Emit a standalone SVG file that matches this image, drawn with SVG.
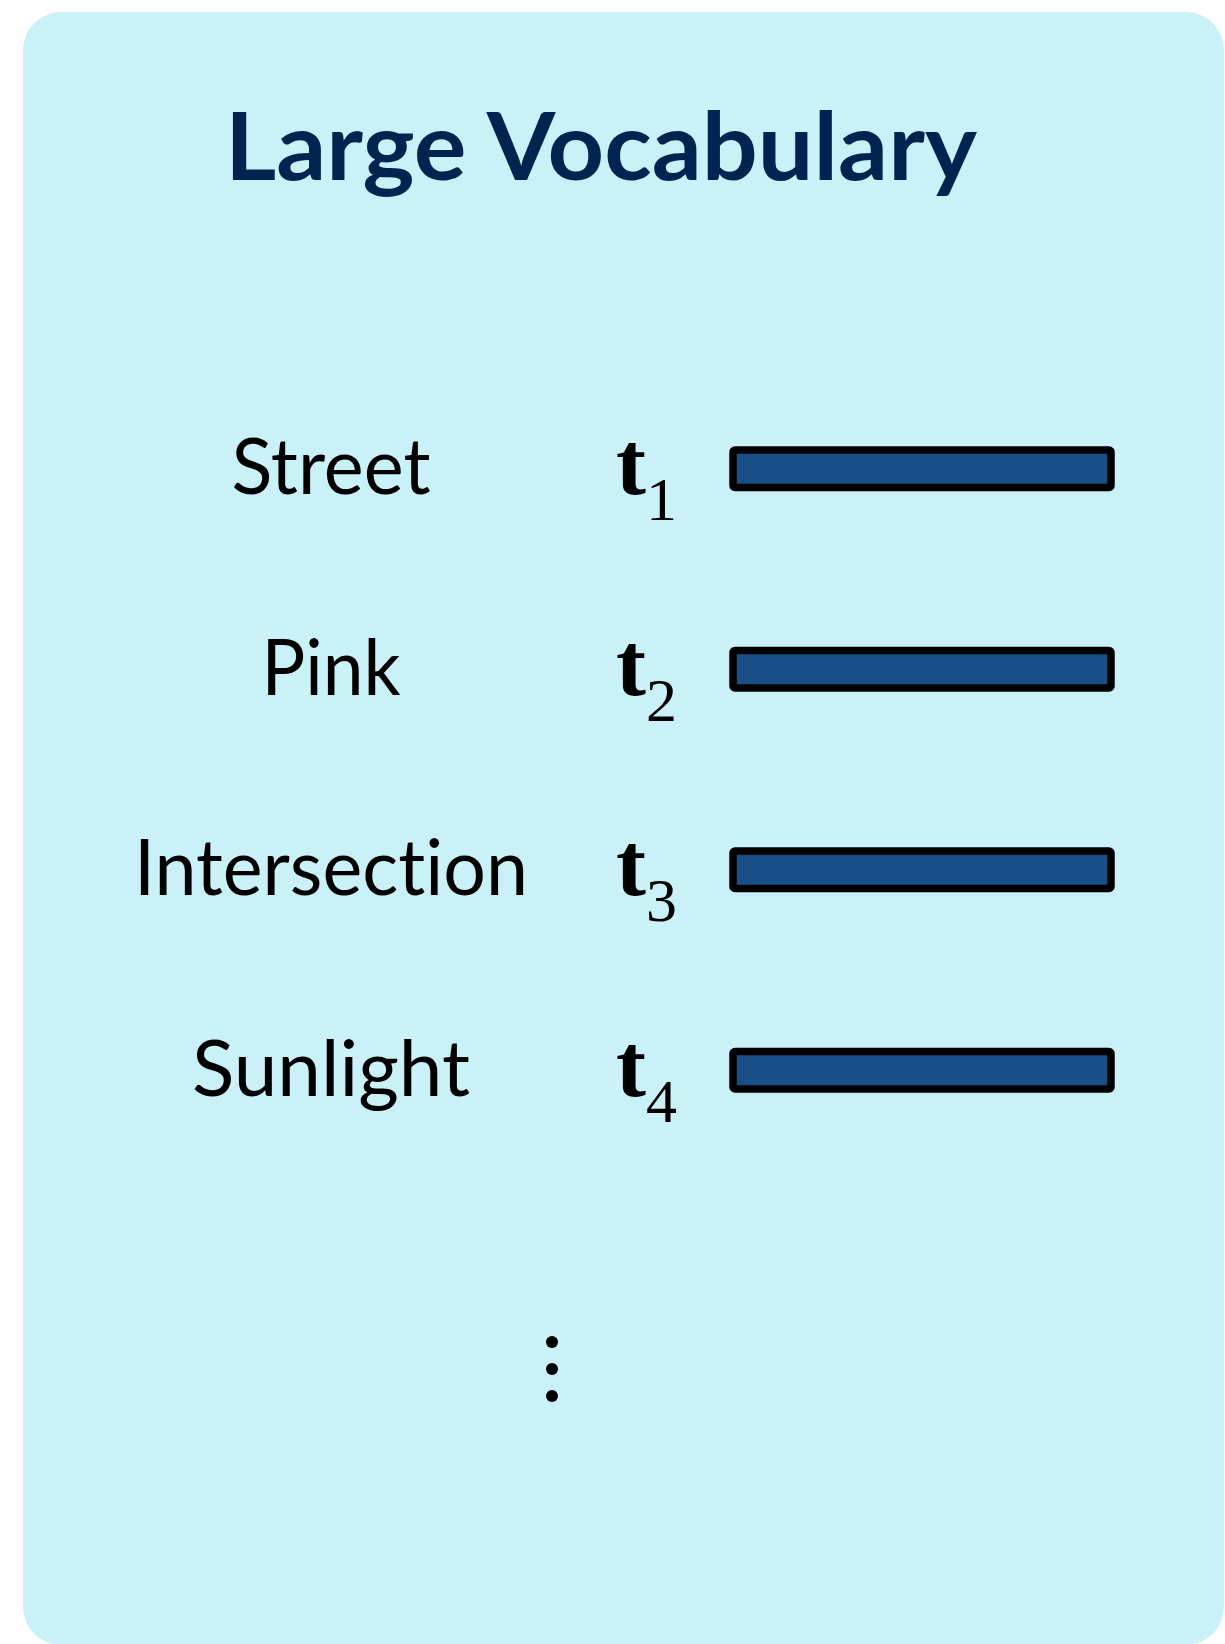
<svg xmlns="http://www.w3.org/2000/svg" width="1225" height="1644" viewBox="0 0 1225 1644">
  <style>
    .panel { fill: #CAF0F8; }
    .title { font-family: Lato, "Noto Sans", "Liberation Sans", sans-serif; font-weight: 700; font-size: 94px; fill: #00234F; }
    .word { font-family: Lato, "Noto Sans", "Liberation Sans", sans-serif; font-weight: 400; font-size: 78px; fill: #000000; text-anchor: middle; font-variant-ligatures: none; }
    .tok { font-family: "Liberation Serif", "Times New Roman", serif; font-weight: 700; font-size: 90px; fill: #000000; }
    .sub { font-weight: 400; font-size: 62px; }
    .bar { fill: #174F86; stroke: #000000; stroke-width: 7.5; stroke-linejoin: round; }
    .dot { fill: #000000; }
  </style>

  <!-- background card -->
  <rect class="panel" x="23" y="12" width="1201" height="1633" rx="38" ry="38"/>

  <text class="title" x="225" y="180" textLength="752" lengthAdjust="spacingAndGlyphs">Large Vocabulary</text>

  <g id="row-street">
    <text class="word" x="331" y="494" textLength="199" lengthAdjust="spacingAndGlyphs">Street</text>
    <text class="tok" x="616" y="494">t<tspan class="sub" dy="26">1</tspan></text>
    <rect class="bar" x="733" y="450" width="378" height="37.5" rx="2"/>
  </g>

  <g id="row-pink">
    <text class="word" x="331" y="694.5" textLength="139" lengthAdjust="spacingAndGlyphs">Pink</text>
    <text class="tok" x="616" y="694.5">t<tspan class="sub" dy="26">2</tspan></text>
    <rect class="bar" x="733" y="650.5" width="378" height="37.5" rx="2"/>
  </g>

  <g id="row-intersection">
    <text class="word" x="331" y="895" textLength="394" lengthAdjust="spacingAndGlyphs">Intersection</text>
    <text class="tok" x="616" y="895">t<tspan class="sub" dy="26">3</tspan></text>
    <rect class="bar" x="733" y="851" width="378" height="37.5" rx="2"/>
  </g>

  <g id="row-sunlight">
    <text class="word" x="331" y="1095.5" textLength="278" lengthAdjust="spacingAndGlyphs">Sunlight</text>
    <text class="tok" x="616" y="1095.5">t<tspan class="sub" dy="26">4</tspan></text>
    <rect class="bar" x="733" y="1051.5" width="378" height="37.5" rx="2"/>
  </g>

  <!-- vertical ellipsis -->
  <g id="more">
    <circle class="dot" cx="552" cy="1342" r="6"/>
    <circle class="dot" cx="552" cy="1369" r="6"/>
    <circle class="dot" cx="552" cy="1396" r="6"/>
  </g>

  <g id="connectors"/>
</svg>
